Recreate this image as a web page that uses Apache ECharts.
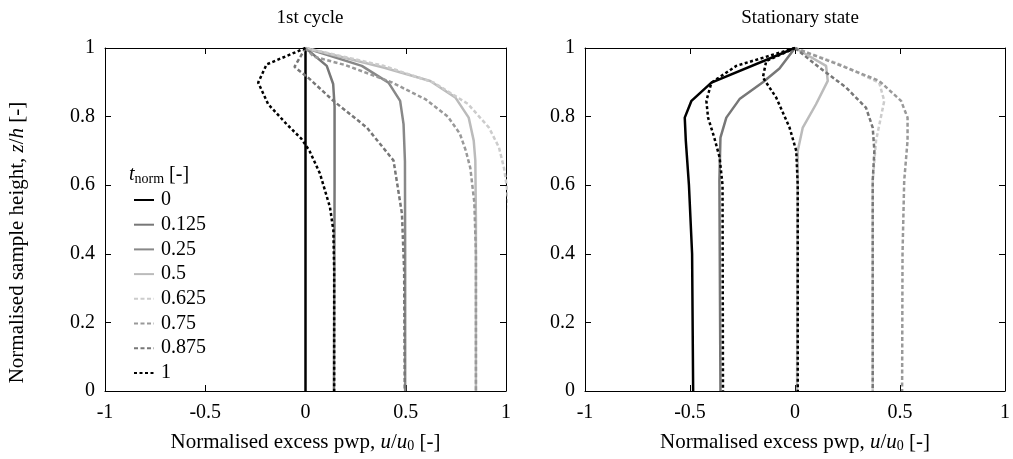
<!DOCTYPE html>
<html lang="en">
<head>
<meta charset="UTF-8">
<title>pwp profiles</title>
<script src="https://cdn.jsdelivr.net/npm/echarts@6/dist/echarts.min.js"></script>
</head>
<body style="margin:0;background:#fff">
<div id="main" style="width:1013px;height:459px"></div>
<script>
// legend entries (t_norm)
var tNorm = ['0', '0.125', '0.25', '0.5', '0.625', '0.75', '0.875', '1'];
var xTicks = [-1, -0.5, 0, 0.5, 1];
var zTicks = [0, 0.2, 0.4, 0.6, 0.8, 1];

// 1st cycle, pairs of [u/u0, z/h]
var c1_0     = [[0, 0], [0, 1]];
var c1_0125  = [[0, 1], [0.106, 0.948], [0.138, 0.895], [0.145, 0.83], [0.145, 0.6], [0.142, 0]];
var c1_025   = [[0, 1], [0.281, 0.948], [0.414, 0.899], [0.472, 0.846], [0.489, 0.778], [0.496, 0.67], [0.497, 0.4], [0.497, 0]];
var c1_05    = [[0, 1], [0.389, 0.943], [0.622, 0.904], [0.747, 0.856], [0.814, 0.797], [0.839, 0.73], [0.847, 0.672], [0.85, 0.5], [0.85, 0]];
var c1_0625  = [[0, 1], [0.39, 0.948], [0.64, 0.899], [0.81, 0.837], [0.915, 0.768], [0.965, 0.71], [0.99, 0.65], [1.003, 0.6], [1.03, 0.45], [1.03, 0]];
var c1_075   = [[0, 1], [0.04, 0.975], [0.2, 0.95], [0.43, 0.9], [0.6, 0.85], [0.71, 0.8], [0.77, 0.75], [0.8, 0.7], [0.822, 0.65], [0.842, 0.55], [0.85, 0.4], [0.85, 0]];
var c1_0875  = [[0, 1], [-0.055, 0.945], [0.02, 0.91], [0.139, 0.846], [0.306, 0.768], [0.439, 0.672], [0.481, 0.517], [0.492, 0.35], [0.495, 0]];
var c1_1     = [[0, 1], [-0.194, 0.952], [-0.236, 0.899], [-0.186, 0.836], [-0.094, 0.778], [-0.02, 0.735], [0.02, 0.7], [0.072, 0.634], [0.122, 0.536], [0.139, 0.468], [0.143, 0.35], [0.143, 0]];

// stationary state
var ss_0     = [[0, 1], [-0.398, 0.899], [-0.493, 0.846], [-0.525, 0.797], [-0.52, 0.73], [-0.505, 0.6], [-0.49, 0.4], [-0.485, 0]];
var ss_0125  = [[0, 1], [-0.074, 0.94], [-0.153, 0.9], [-0.264, 0.851], [-0.327, 0.797], [-0.355, 0.739], [-0.36, 0.613], [-0.355, 0]];
var ss_025   = [[0, 1], [0.148, 0.948], [0.156, 0.904], [0.1, 0.836], [0.037, 0.768], [0.013, 0.7], [0.01, 0]];
var ss_05    = [[0, 1], [-0.279, 0.948], [-0.398, 0.899], [-0.422, 0.846], [-0.414, 0.797], [-0.385, 0.74], [-0.359, 0.681], [-0.345, 0.6], [-0.343, 0]];
var ss_0625  = [[0, 1], [0.211, 0.953], [0.401, 0.899], [0.425, 0.846], [0.386, 0.73], [0.37, 0.613], [0.37, 0]];
var ss_075   = [[0, 1], [0.243, 0.943], [0.401, 0.904], [0.505, 0.846], [0.536, 0.797], [0.536, 0.73], [0.52, 0.613], [0.512, 0.4], [0.51, 0]];
var ss_0875  = [[0, 1], [0.116, 0.943], [0.243, 0.885], [0.338, 0.826], [0.37, 0.768], [0.378, 0.7], [0.37, 0.613], [0.37, 0]];
var ss_1     = [[0, 1], [-0.137, 0.962], [-0.153, 0.914], [-0.089, 0.855], [-0.026, 0.768], [0.006, 0.7], [0.013, 0.6], [0.013, 0]];

var cycleData = [c1_0, c1_0125, c1_025, c1_05, c1_0625, c1_075, c1_0875, c1_1];
var stateData = [ss_0, ss_0125, ss_025, ss_05, ss_0625, ss_075, ss_0875, ss_1];

var F = '"Liberation Serif", serif';
var dash = [4, 2.5], dot = [3, 2.5];
var cycleStyle = [
	{color: '#000', type: 'solid'}, {color: '#777', type: 'solid'},
	{color: '#888', type: 'solid'}, {color: '#bbb', type: 'solid'},
	{color: '#ccc', type: dash}, {color: '#999', type: dash},
	{color: '#777', type: dash}, {color: '#000', type: dot}
];
var stateStyle = [
	{color: '#000', type: 'solid'}, {color: '#777', type: 'solid'},
	{color: '#bbb', type: 'solid'}, {color: '#000', type: dot},
	{color: '#ccc', type: dash}, {color: '#999', type: dash},
	{color: '#777', type: dash}, {color: '#000', type: dot}
];

function richFor(size) {
	return {
		i: {fontFamily: F, fontSize: size, fontStyle: 'italic', color: '#000'},
		s: {fontFamily: F, fontSize: Math.round(size * 0.68), color: '#000', padding: [8, 0, 0, 0]}
	};
}

function xAx(grid, pos) {
	var ax = {
		type: 'value', gridIndex: grid, position: pos, min: -1, max: 1, interval: 0.5,
		axisLine: {show: true, onZero: false, lineStyle: {color: '#000', width: 1}},
		axisTick: {inside: true, length: 6, lineStyle: {color: '#000'}},
		splitLine: {show: false},
		axisLabel: {show: pos == 'bottom', margin: 12, color: '#000', fontFamily: F, fontSize: 20}
	};
	if (pos == 'bottom') {
		ax.name = 'Normalised excess pwp, {i|u}/{i|u}{s|0} [-]';
		ax.nameLocation = 'middle';
		ax.nameGap = 40;
		ax.nameTextStyle = {color: '#000', fontFamily: F, fontSize: 21, rich: richFor(21)};
	}
	return ax;
}
function yAx(grid, pos) {
	var ax = {
		type: 'value', gridIndex: grid, position: pos, min: 0, max: 1, interval: 0.2,
		axisLine: {show: true, onZero: false, lineStyle: {color: '#000', width: 1}},
		axisTick: {inside: true, length: 6, lineStyle: {color: '#000'}},
		splitLine: {show: false},
		axisLabel: {show: pos == 'left', margin: 10, color: '#000', fontFamily: F, fontSize: 20}
	};
	if (grid == 0 && pos == 'left') {
		ax.name = 'Normalised sample height, {i|z}/{i|h} [-]';
		ax.nameLocation = 'middle';
		ax.nameGap = 77;
		ax.nameTextStyle = {color: '#000', fontFamily: F, fontSize: 21, rich: richFor(21), padding: [0, 46, 0, 0]};
	}
	return ax;
}

var series = [];
cycleData.forEach(function (d, k) {
	series.push({name: tNorm[k], type: 'line', xAxisIndex: 0, yAxisIndex: 0, data: d,
		symbol: 'none', lineStyle: {width: 2.5, color: cycleStyle[k].color, type: cycleStyle[k].type},
		itemStyle: {color: cycleStyle[k].color}, emphasis: {disabled: true}});
});
stateData.forEach(function (d, k) {
	series.push({name: tNorm[k], type: 'line', xAxisIndex: 2, yAxisIndex: 2, data: d,
		symbol: 'none', lineStyle: {width: 2.5, color: stateStyle[k].color, type: stateStyle[k].type},
		itemStyle: {color: stateStyle[k].color}, emphasis: {disabled: true}});
});

var option = {
	animation: false,
	backgroundColor: '#fff',
	title: [
		{text: '1st cycle', left: 305, top: 4, textAlign: 'center',
			textStyle: {fontFamily: F, fontSize: 19, fontWeight: 'normal', color: '#000'}},
		{text: 'Stationary state', left: 795, top: 4, textAlign: 'center',
			textStyle: {fontFamily: F, fontSize: 19, fontWeight: 'normal', color: '#000'}},
		{text: '{i|t}{s|norm} [-]', left: 124, top: 159,
			textStyle: {fontFamily: F, fontSize: 20, fontWeight: 'normal', color: '#000', rich: richFor(20)}}
	],
	legend: {
		data: tNorm, orient: 'vertical', left: 128, top: 185,
		itemWidth: 20, itemHeight: 14, itemGap: 4.7,
		itemStyle: {color: 'rgba(0,0,0,0)', borderWidth: 0},
		textStyle: {fontFamily: F, fontSize: 20, color: '#000', padding: [0, 0, 0, 2]},
		selectedMode: false
	},
	grid: [
		{left: 105, top: 48, width: 401, height: 343},
		{left: 585, top: 48, width: 421, height: 343}
	],
	xAxis: [xAx(0, 'bottom'), xAx(0, 'top'), xAx(1, 'bottom'), xAx(1, 'top')],
	yAxis: [yAx(0, 'left'), yAx(0, 'right'), yAx(1, 'left'), yAx(1, 'right')],
	series: series
};

var myChart = echarts.init(document.getElementById('main'));
myChart.setOption(option);
</script>
</body>
</html>
